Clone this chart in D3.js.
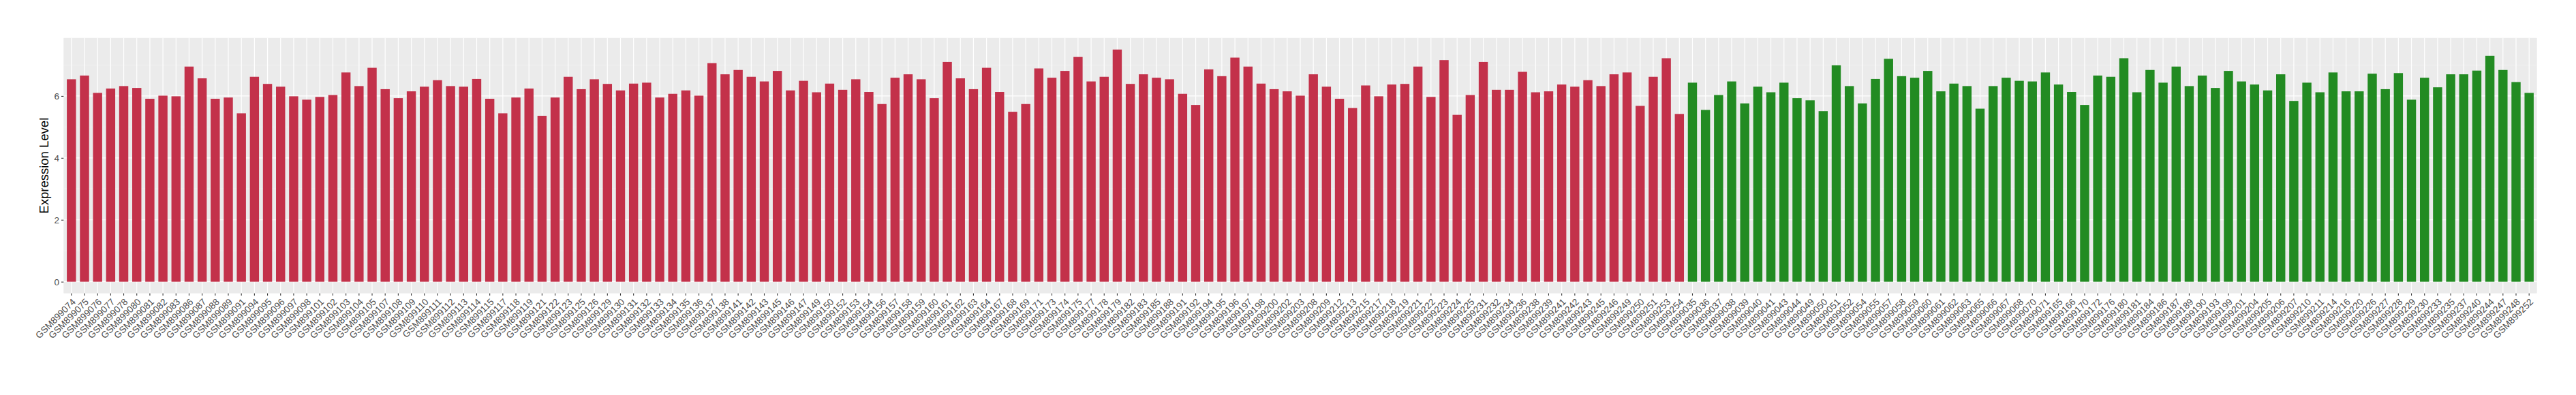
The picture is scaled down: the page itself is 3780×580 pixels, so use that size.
<!DOCTYPE html>
<html>
<head>
<meta charset="utf-8">
<script src="https://d3js.org/d3.v7.min.js"></script>
<style>
  body { margin: 0; background: #fff; }
  text { font-family: "Liberation Sans", Arial, sans-serif; }
</style>
</head>
<body>
<div id="content"></div>
<script>
// dimensions
var width = 3780;
var height = 580;
var margin = {top: 55.7, right: 57.3, bottom: 149.3, left: 93.3};

// group 1 (red)
var redSamples = ["GSM899074","GSM899075","GSM899076","GSM899077","GSM899078","GSM899080","GSM899081","GSM899082","GSM899083","GSM899086","GSM899087","GSM899088",
  "GSM899089","GSM899091","GSM899094","GSM899095","GSM899096","GSM899097","GSM899098","GSM899101","GSM899102","GSM899103","GSM899104","GSM899105","GSM899107","GSM899108","GSM899109","GSM899110",
  "GSM899111","GSM899112","GSM899113","GSM899114","GSM899115","GSM899117","GSM899118","GSM899119","GSM899121","GSM899122","GSM899123","GSM899125","GSM899126","GSM899129","GSM899130","GSM899131",
  "GSM899132","GSM899133","GSM899134","GSM899135","GSM899136","GSM899137","GSM899138","GSM899141","GSM899142","GSM899143","GSM899145","GSM899146","GSM899147","GSM899149","GSM899150","GSM899152",
  "GSM899153","GSM899154","GSM899156","GSM899157","GSM899158","GSM899159","GSM899160","GSM899161","GSM899162","GSM899163","GSM899164","GSM899167","GSM899168","GSM899169","GSM899171","GSM899173",
  "GSM899174","GSM899175","GSM899177","GSM899178","GSM899179","GSM899182","GSM899183","GSM899185","GSM899188","GSM899191","GSM899192","GSM899194","GSM899195","GSM899196","GSM899197","GSM899198",
  "GSM899200","GSM899202","GSM899203","GSM899208","GSM899209","GSM899212","GSM899213","GSM899215","GSM899217","GSM899218","GSM899219","GSM899221","GSM899222","GSM899223","GSM899224","GSM899225",
  "GSM899231","GSM899232","GSM899234","GSM899236","GSM899238","GSM899239","GSM899241","GSM899242","GSM899243","GSM899245","GSM899246","GSM899249","GSM899250","GSM899251","GSM899253","GSM899254"];
var redValues = [6.54,6.66,6.10,6.24,6.32,6.26,5.91,6.01,5.99,6.95,6.57,5.91,
  5.95,5.44,6.62,6.39,6.30,5.99,5.88,5.97,6.03,6.76,6.32,6.91,6.22,5.93,6.15,6.30,
  6.51,6.32,6.30,6.55,5.91,5.44,5.95,6.24,5.36,5.95,6.62,6.22,6.54,6.39,6.18,6.40,
  6.43,5.95,6.07,6.18,6.01,7.06,6.70,6.84,6.62,6.47,6.81,6.18,6.49,6.12,6.40,6.20,
  6.54,6.13,5.74,6.59,6.70,6.54,5.93,7.10,6.57,6.22,6.91,6.13,5.49,5.74,6.89,6.59,
  6.81,7.26,6.47,6.62,7.50,6.39,6.70,6.59,6.54,6.07,5.71,6.86,6.64,7.24,6.95,6.40,
  6.22,6.15,6.01,6.70,6.30,5.91,5.61,6.34,5.99,6.37,6.39,6.95,5.97,7.16,5.39,6.03,
  7.10,6.20,6.20,6.78,6.12,6.15,6.37,6.30,6.51,6.32,6.70,6.76,5.68,6.62,7.22,5.42];

// group 2 (green)
var greenSamples = ["GSM899035","GSM899036","GSM899037","GSM899038","GSM899039","GSM899040","GSM899041","GSM899043","GSM899044","GSM899049","GSM899050","GSM899051","GSM899052","GSM899054","GSM899055","GSM899057","GSM899058",
  "GSM899059","GSM899060","GSM899061","GSM899062","GSM899063","GSM899065","GSM899066","GSM899067","GSM899068","GSM899070","GSM899071","GSM899165","GSM899166","GSM899170","GSM899172","GSM899176",
  "GSM899180","GSM899181","GSM899184","GSM899186","GSM899187","GSM899189","GSM899190","GSM899193","GSM899199","GSM899201","GSM899204","GSM899205","GSM899206","GSM899207","GSM899210","GSM899211",
  "GSM899214","GSM899216","GSM899220","GSM899226","GSM899227","GSM899228","GSM899229","GSM899230","GSM899233","GSM899235","GSM899237","GSM899240","GSM899244","GSM899247","GSM899248","GSM899252"];
var greenValues = [6.43,5.55,6.03,6.47,5.76,6.30,6.12,6.43,5.93,5.86,5.51,6.99,6.32,5.76,6.55,7.20,6.64,
  6.59,6.81,6.15,6.40,6.32,5.59,6.32,6.59,6.49,6.47,6.76,6.37,6.13,5.71,6.66,6.62,
  7.22,6.12,6.84,6.43,6.95,6.32,6.66,6.26,6.81,6.47,6.37,6.18,6.70,5.84,6.43,6.12,
  6.76,6.15,6.15,6.72,6.22,6.74,5.88,6.59,6.28,6.70,6.70,6.82,7.30,6.84,6.45,6.10];

var yTicks = [0, 2, 4, 6];
var yMinor = [1, 3, 5, 7];
var yTitle = "Expression Level";
var colors = {red: "#C3314A", green: "#228B22"};

var data = redSamples.map(function(s, i) { return {id: s, value: redValues[i], group: "red"}; })
  .concat(greenSamples.map(function(s, i) { return {id: s, value: greenValues[i], group: "green"}; }));

var svg = d3.select("#content")
  .append("svg")
  .attr("width", width)
  .attr("height", height);

var panelBottom = height - margin.bottom;
var panelRight = width - margin.right;

// one band per sample, ggplot style: bar = 0.7 of the step, 0.6 step of room at each end
var x = d3.scaleBand()
  .domain(data.map(function(d) { return d.id; }))
  .range([margin.left, panelRight])
  .paddingInner(0.3)
  .paddingOuter(0.25);

var maxV = d3.max(data, function(d) { return d.value; });
var y = d3.scaleLinear()
  .domain([-0.05 * maxV, 1.05 * maxV])
  .range([panelBottom, margin.top]);

// panel background
svg.append("rect")
  .attr("x", margin.left)
  .attr("y", margin.top)
  .attr("width", panelRight - margin.left)
  .attr("height", panelBottom - margin.top)
  .attr("fill", "#EBEBEB");

var grid = svg.append("g").attr("class", "grid");

grid.selectAll("line.minor")
  .data(yMinor)
  .enter().append("line")
  .attr("class", "minor")
  .attr("x1", margin.left).attr("x2", panelRight)
  .attr("y1", function(d) { return y(d); })
  .attr("y2", function(d) { return y(d); })
  .attr("stroke", "#F4F4F4")
  .attr("stroke-width", 0.7);

grid.selectAll("line.majory")
  .data(yTicks)
  .enter().append("line")
  .attr("class", "majory")
  .attr("x1", margin.left).attr("x2", panelRight)
  .attr("y1", function(d) { return y(d); })
  .attr("y2", function(d) { return y(d); })
  .attr("stroke", "#fff")
  .attr("stroke-width", 1.2);

grid.selectAll("line.majorx")
  .data(x.domain())
  .enter().append("line")
  .attr("class", "majorx")
  .attr("x1", function(d) { return x(d) + x.bandwidth() / 2; })
  .attr("x2", function(d) { return x(d) + x.bandwidth() / 2; })
  .attr("y1", margin.top).attr("y2", panelBottom)
  .attr("stroke", "#fff")
  .attr("stroke-width", 1.2);

// bars
svg.append("g")
  .attr("class", "bars")
  .selectAll("rect")
  .data(data)
  .enter().append("rect")
  .attr("x", function(d) { return x(d.id); })
  .attr("width", x.bandwidth())
  .attr("y", function(d) { return y(d.value); })
  .attr("height", function(d) { return y(0) - y(d.value); })
  .attr("fill", function(d) { return colors[d.group]; });

// y axis
var yAxis = svg.append("g")
  .attr("transform", "translate(" + margin.left + ",0)")
  .call(d3.axisLeft(y).tickValues(yTicks).tickSize(3.3).tickPadding(3).tickFormat(d3.format("d")));
yAxis.select(".domain").remove();
yAxis.selectAll(".tick line").attr("stroke", "#333").attr("stroke-width", 1.1);
yAxis.selectAll(".tick text")
  .attr("fill", "#4D4D4D")
  .style("font-size", "13.6px")
  .style("font-family", "Liberation Sans, Arial, sans-serif");

// x axis, labels turned 45 degrees
var xAxis = svg.append("g")
  .attr("transform", "translate(0," + panelBottom + ")")
  .call(d3.axisBottom(x).tickSize(3.3).tickPadding(0));
xAxis.select(".domain").remove();
xAxis.selectAll(".tick line").attr("stroke", "#333").attr("stroke-width", 1.1);
xAxis.selectAll(".tick text")
  .attr("fill", "#4D4D4D")
  .attr("text-anchor", "end")
  .attr("y", 0)
  .attr("dy", "0.72em")
  .attr("transform", "translate(0,6.5) rotate(-45)")
  .style("font-size", "13.6px")
  .style("font-family", "Liberation Sans, Arial, sans-serif");

// y title
svg.append("text")
  .attr("transform", "translate(" + 71 + "," + ((margin.top + panelBottom) / 2) + ") rotate(-90)")
  .attr("text-anchor", "middle")
  .style("font-size", "18.5px")
  .attr("fill", "#000")
  .text(yTitle);
</script>
</body>
</html>
